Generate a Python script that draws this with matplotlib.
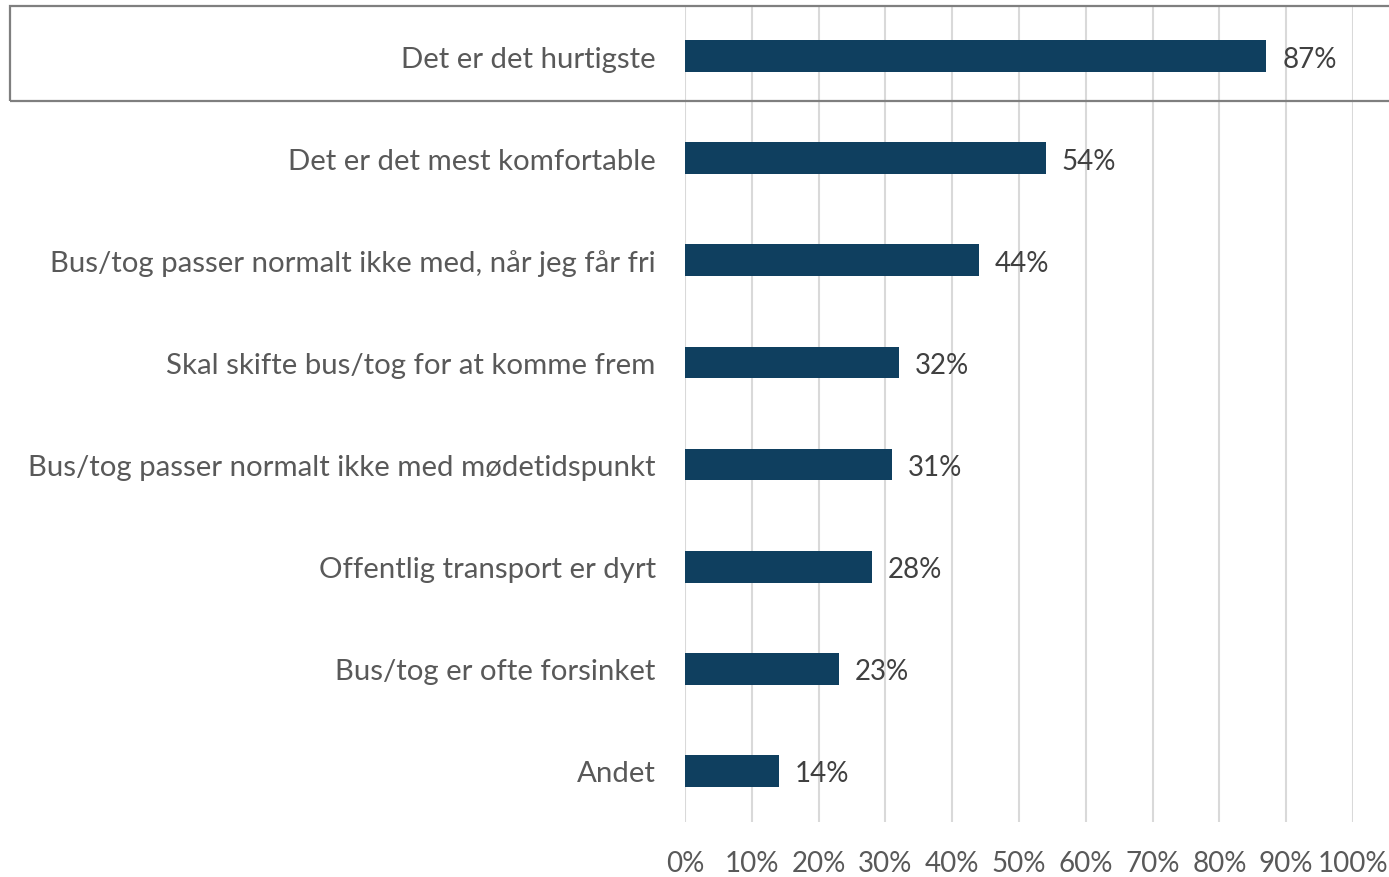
import matplotlib
matplotlib.use("Agg")
import matplotlib.pyplot as plt
from matplotlib.patches import Rectangle

categories = [
    "Det er det hurtigste",
    "Det er det mest komfortable",
    "Bus/tog passer normalt ikke med, når jeg får fri",
    "Skal skifte bus/tog for at komme frem",
    "Bus/tog passer normalt ikke med mødetidspunkt",
    "Offentlig transport er dyrt",
    "Bus/tog er ofte forsinket",
    "Andet",
]
values = [87, 54, 44, 32, 31, 28, 23, 14]
tick_values = [0, 10, 20, 30, 40, 50, 60, 70, 80, 90, 100]
tick_labels = [f"{t}%" for t in tick_values]

plt.rcParams["font.family"] = ["Lato", "DejaVu Sans"]

W, H = 1389, 878
fig = plt.figure(figsize=(W / 100, H / 100), dpi=100)
ax = fig.add_axes([685 / W, (H - 823) / H, (1353 - 685) / W, (823 - 6) / H])

bar_color = "#0f3f5f"
ypos = list(range(len(categories)))
ax.barh(ypos, values, height=0.31, color=bar_color, zorder=3)

ax.set_xlim(0, 100)
ax.set_ylim(len(categories) - 0.5, -0.5)
ax.set_xticks(tick_values)
ax.set_xticklabels(tick_labels)
ax.set_yticks(ypos)
ax.set_yticklabels(categories)
ax.grid(axis="x", color="#d9d9d9", linewidth=1.5, zorder=0)
for s in ax.spines.values():
    s.set_visible(False)
ax.tick_params(axis="both", length=0)
ax.tick_params(axis="y", pad=21, labelsize=21.2, labelcolor="#595959")
ax.tick_params(axis="x", pad=20, labelsize=20, labelcolor="#595959")

for y, v in zip(ypos, values):
    ax.text(v + 2.4, y, f"{v}%", va="center_baseline", ha="left",
            fontsize=20, color="#404040")

# highlight frame around the top row
fig.patches.append(Rectangle((10 / W, (H - 102) / H), (W + 5 - 10) / W, 95 / H,
                             transform=fig.transFigure, fill=False,
                             edgecolor="#7f7f7f", linewidth=1.6, zorder=5))

fig.savefig("out.png", dpi=100)
